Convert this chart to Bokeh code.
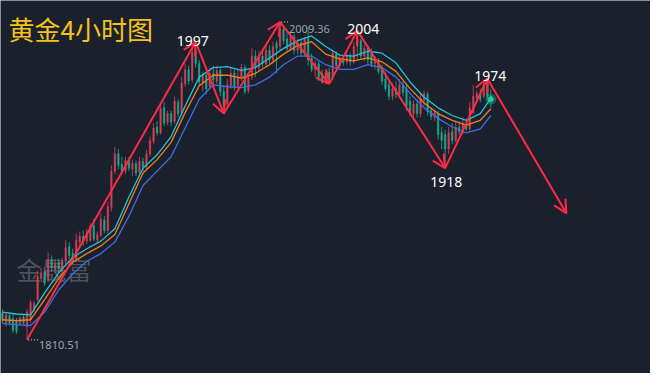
from bokeh.plotting import figure
from bokeh.models import Range1d, Label, Arrow, OpenHead, ColumnDataSource
from bokeh.embed import file_html
from bokeh.resources import INLINE

BG = "#1a202c"
RED = "#d9435a"
TEAL = "#1fae92"
ARROW = "#ff2a44"

# ---- 4H candles (index, open, high, low, close) ----
opens = [1827.3,1821.3,1825.5,1823.7,1822.5,1820.7,1824.9,1818.9,1823.1,1829.7,
         1835.7,1848.9,1853.1,1847.7,1860.9,1854.9,1859.1,1854.3,1859.7,1868.7,
         1864.5,1860.9,1871.7,1875.3,1872.3,1872.9,1881.9,1872.9,1875.9,1885.5,
         1878.9,1893.3,1916.1,1926.9,1920.3,1916.1,1922.7,1917.3,1920.9,1915.5,
         1922.1,1919.1,1926.9,1934.7,1943.7,1940.1,1955.7,1946.7,1952.1,1947.3,
         1959.3,1952.7,1970.7,1979.7,1973.1,1991.7,1983.3,1971.3,1976.1,1968.9,
         1977.3,1972.5,1979.1,1965.9,1958.1,1969.5,1977.3,1969.5,1974.9,1980.9,
         1966.5,1974.9,1988.1,1980.9,1988.1,1983.3,1991.7,1985.7,1995.9,1994.1,
         2004.9,1998.9,1992.9,2000.1,1991.7,1996.5,1989.9,1998.9,1986.9,1979.7,
         1983.3,1976.1,1971.3,1977.9,1974.9,1989.3,1982.1,1986.9,1984.5,1988.1,
         1984.5,1994.1,1997.7,1988.1,1992.9,1989.3,1983.3,1985.7,1980.9,1973.7,
         1970.1,1962.9,1967.7,1964.1,1970.1,1967.7,1959.9,1952.1,1958.1,1952.1,
         1960.5,1964.1,1953.9,1949.7,1952.1,1940.1,1938.9,1929.9,1940.7,1935.3,
         1943.7,1940.1,1946.1,1942.5,1952.7,1961.7,1964.7,1962.9,1971.3,1962.9]
highs = [1829.7,1827.9,1827.3,1826.7,1824.3,1825.5,1826.1,1829.7,1835.7,1835.1,
         1853.7,1855.5,1856.1,1865.1,1863.3,1860.9,1861.5,1862.1,1872.9,1871.7,
         1867.5,1877.1,1878.3,1878.9,1880.1,1883.7,1886.1,1878.3,1889.7,1887.9,
         1896.9,1919.7,1931.1,1929.9,1925.1,1925.1,1925.1,1923.3,1922.7,1925.1,
         1924.5,1929.3,1937.7,1946.1,1947.3,1957.5,1959.3,1953.9,1953.9,1962.9,
         1961.1,1974.9,1983.3,1982.1,1992.9,1997.0,1985.7,1978.5,1977.9,1980.9,
         1982.1,1982.1,1980.9,1970.1,1973.7,1980.9,1979.7,1979.1,1983.3,1982.7,
         1977.3,1992.9,1991.7,1991.1,1991.7,1995.3,1994.7,1997.1,1997.7,2009.36,
         2007.3,2003.1,2002.5,2001.9,1998.9,1998.9,2000.1,2006.1,1989.9,1985.7,
         1985.1,1979.7,1979.7,1980.9,1991.7,1991.1,1989.3,1988.7,1990.5,1989.9,
         1997.1,2004.0,1998.9,1995.3,1994.7,1992.9,1988.1,1986.9,1982.7,1977.9,
         1972.5,1971.3,1972.5,1973.7,1972.5,1971.3,1962.9,1960.5,1961.1,1965.3,
         1966.5,1965.9,1955.7,1954.5,1953.9,1943.7,1941.9,1943.7,1946.1,1947.9,
         1947.3,1949.7,1949.1,1959.3,1970.1,1966.5,1967.7,1972.5,1974.0,1967.7]
lows = [1820.7,1818.9,1819.5,1814.7,1814.1,1819.5,1820.1,1810.51,1821.3,1827.9,
        1834.5,1846.5,1844.1,1846.5,1853.1,1851.9,1853.1,1852.5,1857.9,1860.9,
        1857.9,1859.7,1869.3,1869.3,1870.5,1871.7,1872.3,1870.5,1874.7,1877.1,
        1877.1,1890.9,1914.3,1917.3,1914.3,1914.3,1916.1,1913.1,1913.1,1913.7,
        1916.1,1917.3,1925.1,1932.9,1938.3,1938.9,1944.3,1944.9,1944.3,1945.5,
        1949.7,1950.9,1968.9,1970.1,1971.3,1980.9,1970.1,1965.9,1964.1,1967.1,
        1970.1,1970.7,1962.9,1952.1,1955.7,1967.7,1966.5,1967.7,1972.5,1964.1,
        1964.7,1973.1,1974.9,1978.5,1980.9,1981.5,1983.3,1983.3,1977.3,1991.7,
        1995.3,1991.1,1991.1,1989.3,1989.3,1987.5,1988.1,1982.1,1977.9,1974.9,
        1972.5,1971.0,1970.1,1970.7,1973.1,1979.7,1980.3,1982.1,1982.7,1982.1,
        1983.3,1985.7,1985.7,1985.1,1983.3,1980.9,1979.7,1976.7,1970.1,1965.9,
        1960.5,1960.5,1961.7,1962.3,1962.9,1953.9,1950.9,1947.9,1949.7,1949.7,
        1956.9,1950.9,1947.9,1947.3,1935.9,1929.9,1918.0,1926.9,1932.9,1934.1,
        1938.9,1938.9,1941.3,1941.3,1951.5,1959.3,1959.3,1961.7,1960.5,1955.7]
closes = [1822.5,1826.1,1821.3,1816.5,1815.9,1824.3,1821.3,1827.9,1833.9,1833.3,
          1850.1,1852.5,1845.9,1860.9,1855.5,1857.9,1854.9,1859.7,1868.1,1863.3,
          1859.7,1872.9,1875.3,1871.7,1877.7,1881.9,1873.5,1876.5,1886.1,1878.9,
          1893.9,1916.1,1926.9,1919.7,1916.1,1922.7,1917.9,1920.9,1914.9,1922.1,
          1918.5,1926.9,1935.3,1943.1,1940.1,1955.1,1946.1,1952.1,1946.7,1959.9,
          1952.1,1971.3,1979.7,1972.5,1990.5,1983.3,1971.9,1976.1,1967.7,1977.3,
          1973.1,1979.1,1965.9,1956.9,1970.1,1977.3,1968.9,1975.5,1980.9,1965.9,
          1974.9,1988.1,1980.9,1988.1,1983.3,1991.7,1985.7,1994.1,1992.9,2004.9,
          1997.7,1992.9,2000.1,1991.7,1996.5,1989.9,1998.9,1985.7,1979.7,1983.3,
          1974.9,1971.3,1977.9,1973.7,1989.9,1982.1,1986.9,1983.9,1988.1,1984.5,
          1994.1,1998.9,1988.1,1992.9,1985.7,1983.3,1985.7,1978.5,1972.5,1967.7,
          1962.9,1967.7,1964.1,1970.1,1965.3,1956.9,1953.3,1958.1,1952.1,1961.7,
          1964.7,1953.3,1950.3,1952.7,1938.9,1935.3,1929.9,1940.1,1935.3,1943.7,
          1940.7,1946.1,1942.5,1955.7,1962.9,1964.7,1961.1,1970.1,1962.9,1961.1]
idx = list(range(len(closes)))

# ---- moving-average bands (sampled every 4 bars + last) ----
band_idx = list(range(0, 137, 4)) + [139]
ma_upper = [1827.9,1826.7,1826.1,1839.9,1852.5,1862.1,1867.5,1872.3,1880.1,1899.9,
            1917.9,1926.3,1937.7,1956.9,1974.9,1980.9,1981.5,1979.1,1980.9,1986.9,
            1992.9,1997.7,2000.7,1994.1,1988.7,1988.1,1991.1,1989.9,1983.9,1971.9,
            1962.3,1955.7,1950.9,1947.9,1952.1,1961.7]
ma_mid = [1823.1,1822.5,1823.1,1835.7,1848.9,1859.1,1864.5,1869.3,1876.5,1895.7,
          1914.9,1923.3,1934.1,1952.7,1969.5,1976.1,1976.1,1974.3,1977.3,1982.7,
          1989.3,1994.7,1997.1,1989.3,1986.3,1985.1,1986.9,1984.5,1978.5,1967.7,
          1958.7,1952.1,1947.9,1944.9,1947.9,1955.1]
ma_lower = [1820.7,1820.1,1819.5,1827.9,1841.7,1851.9,1859.7,1864.5,1871.7,1887.9,
            1907.1,1916.1,1925.1,1943.1,1961.1,1970.1,1968.9,1968.3,1970.1,1974.9,
            1982.7,1988.1,1988.1,1982.7,1979.7,1979.7,1982.7,1980.9,1974.9,1964.7,
            1955.7,1949.1,1943.7,1940.1,1942.5,1950.9]

# ---- wave pivots (bar index, price) ----
piv_idx = [7, 55, 63, 79, 93, 101, 126, 138, 160.5]
piv_px = [1810.51, 1997.0, 1952.1, 2009.36, 1970.7, 2004.0, 1918.0, 1974.0, 1889.7]

# white pivot labels
lab_idx = [55, 101, 138, 126]
lab_px = [1997.0, 2004.0, 1974.0, 1918.0]
lab_text = ["1997", "2004", "1974", "1918"]
# grey extreme labels
ext_idx = [79, 7]
ext_px = [2009.36, 1810.51]
ext_text = ["2009.36", "1810.51"]

title_text = "黄金4小时图"
watermark_text = "金晟富"

p = figure(width=650, height=373, output_backend="svg", toolbar_location=None,
           x_range=Range1d(-0.556, 184.44), y_range=Range1d(1789.46, 2022.86),
           x_axis_location=None, y_axis_location=None, min_border=0,
           background_fill_color=BG, border_fill_color=BG, outline_line_color=None)
p.grid.visible = False

p.add_layout(Label(x=16, y=105, x_units="screen", y_units="screen", text=watermark_text,
                   text_font="Noto Sans CJK SC", text_font_size="25px",
                   text_color="#4d5259", text_baseline="middle", level="underlay"))

up = [c >= o for o, c in zip(opens, closes)]
cols = [RED if u else TEAL for u in up]
src = ColumnDataSource(dict(x=idx, o=opens, h=highs, l=lows, c=closes, col=cols,
                            top=[max(o, c) for o, c in zip(opens, closes)],
                            bot=[min(o, c) for o, c in zip(opens, closes)]))
p.segment(x0="x", y0="h", x1="x", y1="l", color="col", line_width=1, line_alpha=0.8, source=src)
p.vbar(x="x", top="top", bottom="bot", width=0.45, fill_color="col", line_color="col",
       line_width=0.5, fill_alpha=0.8, line_alpha=0.8, source=src)

p.line(band_idx, ma_upper, color="#23c4d8", line_width=1.3)
p.line(band_idx, ma_mid, color="#f08018", line_width=1.3)
p.line(band_idx, ma_lower, color="#3d6ee6", line_width=1.3)

# current price glow
p.scatter([idx[-1]], [closes[-1]], size=10, color=TEAL, alpha=0.35)
p.scatter([idx[-1]], [closes[-1]], size=5, color="#25c9a0")

for k in range(len(piv_idx) - 1):
    p.add_layout(Arrow(x_start=piv_idx[k], y_start=piv_px[k],
                       x_end=piv_idx[k + 1], y_end=piv_px[k + 1],
                       line_color=ARROW, line_width=2,
                       end=OpenHead(size=13, line_color=ARROW, line_width=2)))

offs = {"1997": (-3, 1), "2004": (6, 2), "1974": (3, 3), "1918": (1, -14)}
for i, v, t in zip(lab_idx, lab_px, lab_text):
    dx, dy = offs[t]
    p.add_layout(Label(x=i, y=v, text=t, text_font="Noto Sans", text_font_size="14px",
                       text_color="#ffffff", text_align="center", text_baseline="alphabetic",
                       x_offset=dx, y_offset=dy))

eoffs = {"2009.36": (9, -7), "1810.51": (12, -5)}
for i, v, t in zip(ext_idx, ext_px, ext_text):
    dx, dy = eoffs[t]
    p.segment(x0=[i + 0.3], y0=[v], x1=[i + 0.3 + dx / 3.6 - 0.3], y1=[v],
              line_color="#9aa0a8", line_dash="1 2", line_width=1.5)
    p.add_layout(Label(x=i, y=v, text=t, text_font="Noto Sans", text_font_size="11px",
                       text_color="#9ea3ab", text_align="left", text_baseline="alphabetic",
                       x_offset=dx, y_offset=dy))

p.add_layout(Label(x=8, y=345, x_units="screen", y_units="screen", text=title_text,
                   text_font="Noto Sans CJK SC", text_font_size="26px",
                   text_color="#f5c21b", text_baseline="middle"))

html = file_html(p, INLINE)
html = html.replace("<body>", '<body style="background:%s;">' % BG, 1)
open("out.html", "w").write(html)
